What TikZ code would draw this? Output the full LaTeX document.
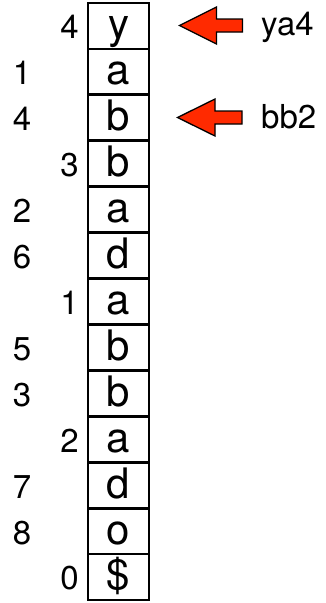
\documentclass[tikz,border=0pt]{standalone}
\usepackage{fontspec}
\setmainfont{TeX Gyre Heros}
\definecolor{arrowred}{HTML}{FF2A00}
\begin{document}
\begin{tikzpicture}[x=1pt,y=-1pt,
  cell/.style={draw, line width=2.8pt, minimum width=61pt, minimum height=45.92pt, inner sep=0pt,
    text height=29.92pt, text depth=4pt, font=\fontsize{42}{48}\selectfont},
  num/.style={inner sep=0pt, font=\fontsize{33}{38}\selectfont},
  lbl/.style={inner sep=0pt, anchor=base west, font=\fontsize{33}{38}\selectfont},
  redarrow/.style={fill=arrowred, draw=black, line width=1.3pt, line join=miter}]
\useasboundingbox (0,0) rectangle (325,603);
% cells
\foreach \ch [count=\i from 0] in {y,a,b,b,a,d,a,b,b,a,d,o,\$}
  \node[cell] (c\i) at (118.5, {3+45.92*(\i+0.5)}) {\ch};
% left column numbers
\foreach \r/\d in {1/1,2/4,4/2,5/6,7/5,8/3,10/7,11/8}
  \node[num, anchor=base] (a\r) at (22, {3+45.92*(\r+1)-10}) {\d};
% right column numbers
\foreach \r/\d in {0/4,3/3,6/1,9/2,12/0}
  \node[num, anchor=base east] (b\r) at (79, {3+45.92*(\r+1)-10}) {\d};
% labels
\node[lbl] (l1) at (261,35) {ya4};
\node[lbl] (l2) at (261,128) {bb2};
% arrows
\draw[redarrow] (179.5,25.5) -- (216.5,7) -- (216.5,19) -- (242.5,19) -- (242.5,32) -- (216.5,32) -- (216.5,44) -- cycle;
\draw[redarrow] (177.5,117.5) -- (215,99) -- (215,111) -- (242,111) -- (242,124) -- (215,124) -- (215,136) -- cycle;
\end{tikzpicture}
\end{document}
